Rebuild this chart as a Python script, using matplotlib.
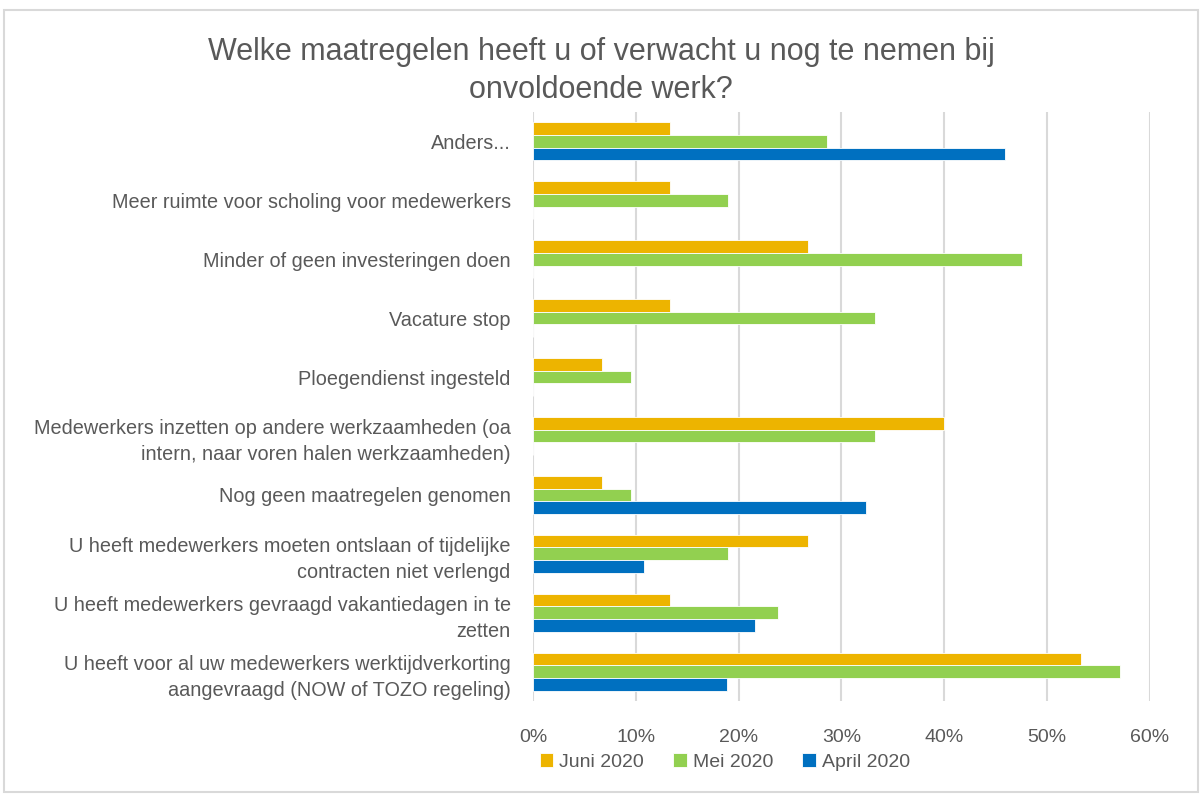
import matplotlib.pyplot as plt
import numpy as np
from matplotlib.patches import Rectangle
from matplotlib.ticker import FuncFormatter

plt.rcParams['font.family'] = ['Liberation Sans', 'DejaVu Sans']

# categories from bottom to top
categories = [
    'U heeft voor al uw medewerkers werktijdverkorting\naangevraagd (NOW of TOZO regeling)',
    'U heeft medewerkers gevraagd vakantiedagen in te\nzetten',
    'U heeft medewerkers moeten ontslaan of tijdelijke\ncontracten niet verlengd',
    'Nog geen maatregelen genomen',
    'Medewerkers inzetten op andere werkzaamheden (oa\nintern, naar voren halen werkzaamheden)',
    'Ploegendienst ingesteld',
    'Vacature stop',
    'Minder of geen investeringen doen',
    'Meer ruimte voor scholing voor medewerkers',
    'Anders...',
]
juni = [53.3, 13.3, 26.7, 6.7, 40.0, 6.7, 13.3, 26.7, 13.3, 13.3]
mei = [57.1, 23.8, 19.0, 9.5, 33.3, 9.5, 33.3, 47.6, 19.0, 28.6]
april = [18.9, 21.6, 10.8, 32.4, 0, 0, 0, 0, 0, 45.9]
series_names = ['Juni 2020', 'Mei 2020', 'April 2020']
colors = ['#EDB400', '#92D050', '#0070C0']
xticks = [0, 10, 20, 30, 40, 50, 60]

text_color = '#595959'
fig = plt.figure(figsize=(12.02, 7.94), dpi=100)
fig.patches.append(Rectangle((0.003, 0.003), 0.994, 0.984, transform=fig.transFigure,
                             fill=False, edgecolor='#d9d9d9', linewidth=1.5))
ax = fig.add_axes([0.4434, 0.117, 0.5133, 0.742])

y = np.arange(len(categories))
h = 0.215
for vals, off, col, name in zip([juni, mei, april], [h, 0, -h], colors, series_names):
    ax.barh(y + off, vals, height=h, color=col, edgecolor='white', linewidth=0.6, label=name, zorder=3)

ax.set_xlim(0, 60)
ax.set_ylim(-0.5, len(categories) - 0.5)
ax.set_xticks(xticks)
ax.xaxis.set_major_formatter(FuncFormatter(lambda v, p: f'{v:.0f}%'))
ax.set_yticks(y)
ax.set_yticklabels(categories, fontsize=14.3, color=text_color, linespacing=1.5)
ax.tick_params(axis='x', labelsize=14, colors=text_color, length=0, pad=20)
ax.tick_params(axis='y', length=0, pad=16)
ax.grid(axis='x', color='#d9d9d9', linewidth=1.5, zorder=0)
for s in ax.spines.values():
    s.set_visible(False)

fig.text(0.5, 0.91, 'Welke maatregelen heeft u of verwacht u nog te nemen bij\nonvoldoende werk?',
         ha='center', va='center', fontsize=22, color=text_color, linespacing=1.35)

leg = fig.legend(loc='center', bbox_to_anchor=(0.603, 0.04), ncol=3, frameon=False,
                 fontsize=14, handlelength=0.7, handleheight=0.7, handletextpad=0.3,
                 columnspacing=1.5)
for t in leg.get_texts():
    t.set_color(text_color)

fig.savefig('out.png', dpi=100)
